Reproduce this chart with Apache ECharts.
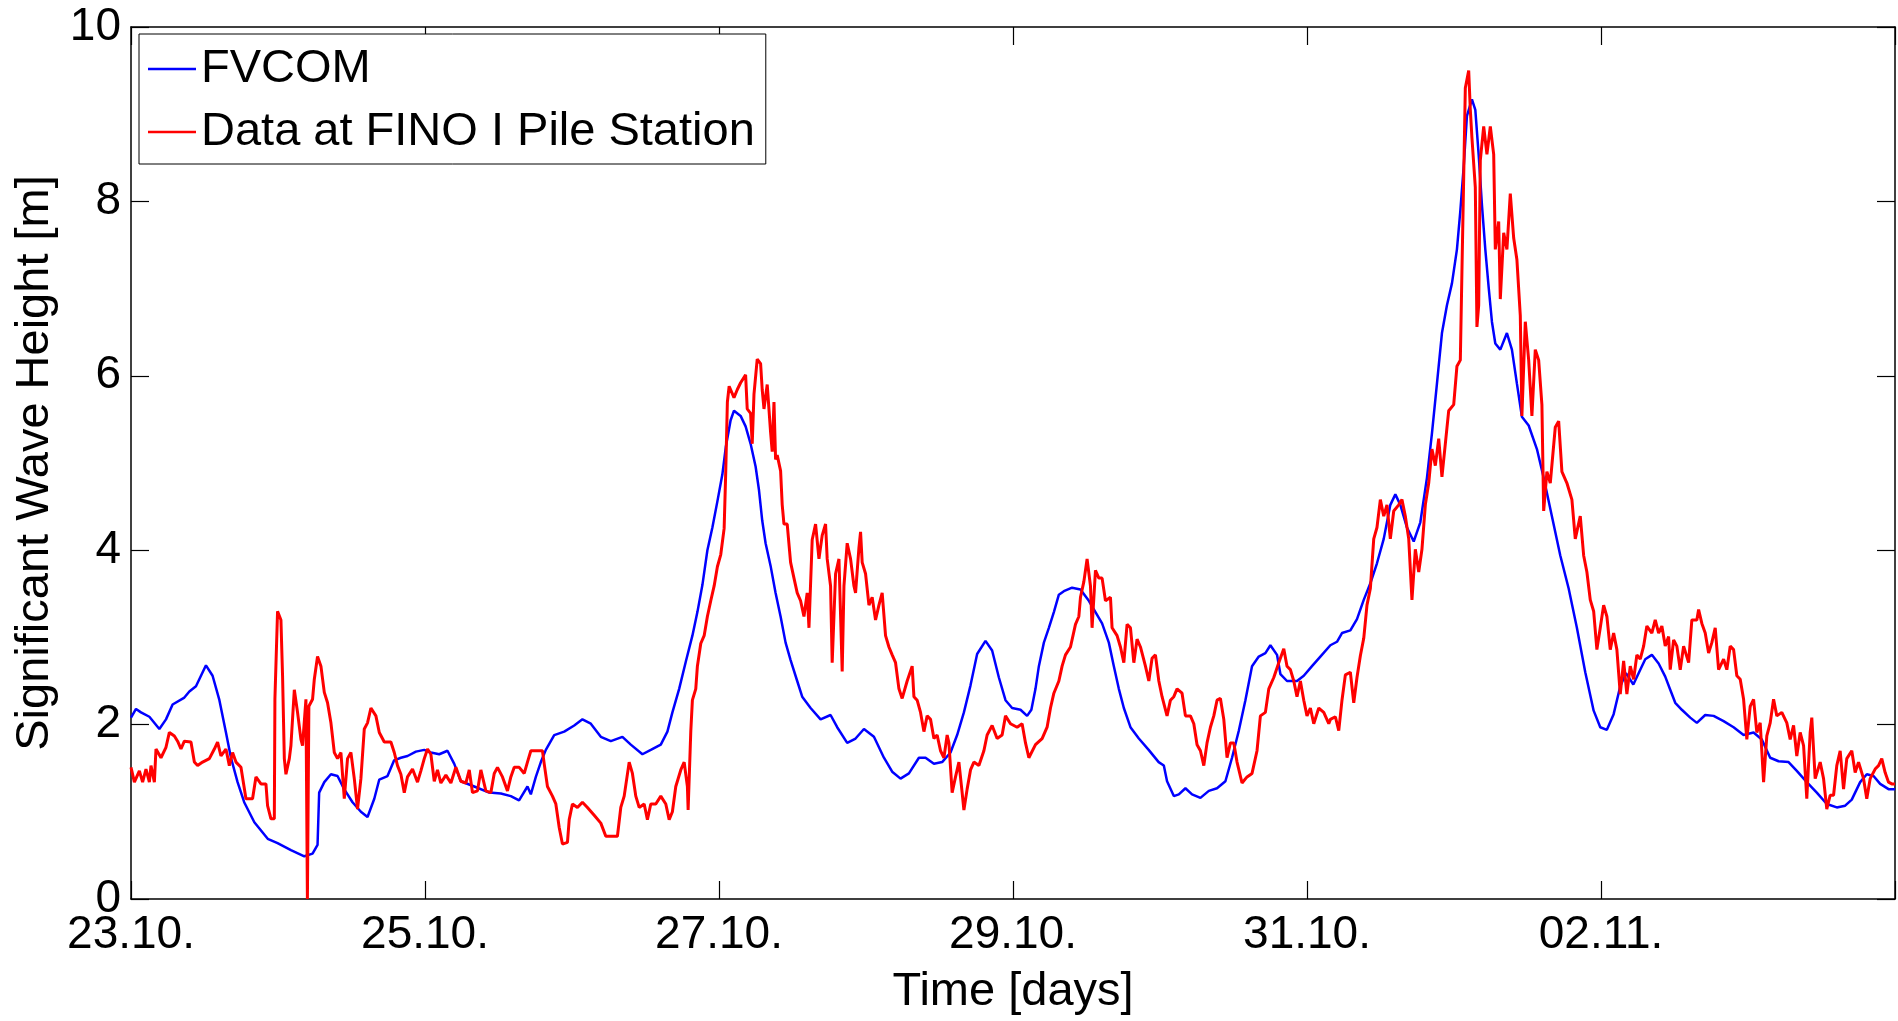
<!DOCTYPE html>
<html><head><meta charset="utf-8">
<script src="https://cdn.jsdelivr.net/npm/echarts@6/dist/echarts.min.js"></script>
<style>html,body{margin:0;padding:0;background:#fff}#c{width:1898px;height:1021px}</style>
</head><body><div id="c"></div>
<script>
// x in days since 23.10. 00:00
const xTickLabels = ['23.10.', '25.10.', '27.10.', '29.10.', '31.10.', '02.11.'];
const seriesNames = ['FVCOM', 'Data at FINO I Pile Station'];

const fvcomPoints = [
[0,2.08],[0.034,2.18],[0.068,2.14],[0.125,2.09],[0.193,1.95],[0.238,2.06],[0.283,2.23],[0.363,2.31],[0.397,2.38],[0.442,2.44],[0.476,2.56],[0.510,2.68],[0.555,2.56],[0.600,2.29],[0.646,1.91],[0.680,1.62],[0.725,1.34],[0.770,1.11],[0.839,0.88],[0.930,0.69],[0.997,0.64],[1.088,0.56],[1.179,0.49],[1.235,0.52],[1.269,0.62],[1.280,1.22],[1.315,1.34],[1.360,1.43],[1.405,1.41],[1.450,1.26],[1.507,1.11],[1.564,1.00],[1.609,0.94],[1.655,1.15],[1.689,1.37],[1.745,1.41],[1.790,1.59],[1.836,1.62],[1.881,1.64],[1.938,1.69],[1.995,1.71],
[2.040,1.68],[2.097,1.66],[2.153,1.70],[2.199,1.55],[2.244,1.35],[2.335,1.29],[2.437,1.22],[2.516,1.21],[2.584,1.18],[2.640,1.13],[2.697,1.29],[2.720,1.20],[2.754,1.40],[2.788,1.57],[2.822,1.71],[2.879,1.88],[2.947,1.92],[3.015,1.99],[3.071,2.06],[3.128,2.01],[3.196,1.86],[3.264,1.81],[3.343,1.86],[3.400,1.77],[3.479,1.66],[3.536,1.71],[3.604,1.77],[3.649,1.92],[3.683,2.14],[3.729,2.41],[3.774,2.72],[3.819,3.02],[3.853,3.29],[3.887,3.60],[3.921,4.00],[3.955,4.26],[3.989,4.56],[4.023,4.87],[4.046,5.18],
[4.079,5.49],[4.102,5.60],[4.147,5.54],[4.181,5.42],[4.215,5.22],[4.249,4.96],[4.272,4.69],[4.294,4.34],[4.317,4.08],[4.351,3.82],[4.385,3.51],[4.419,3.24],[4.453,2.94],[4.487,2.74],[4.532,2.50],[4.566,2.32],[4.623,2.19],[4.691,2.06],[4.759,2.11],[4.804,1.97],[4.872,1.79],[4.929,1.84],[4.986,1.95],[5.054,1.86],[5.122,1.62],[5.178,1.46],[5.235,1.38],[5.292,1.44],[5.360,1.62],[5.405,1.62],[5.462,1.55],[5.518,1.57],[5.575,1.68],[5.620,1.88],[5.666,2.14],[5.711,2.45],[5.756,2.81],[5.813,2.96],[5.858,2.85],[5.904,2.54],[5.949,2.28],[5.994,2.19],[6.051,2.17],[6.096,2.10],
[6.125,2.17],[6.153,2.41],[6.176,2.67],[6.210,2.94],[6.244,3.11],[6.278,3.29],[6.312,3.49],[6.346,3.53],[6.402,3.57],[6.459,3.55],[6.516,3.42],[6.561,3.29],[6.606,3.16],[6.652,2.94],[6.686,2.67],[6.720,2.41],[6.754,2.19],[6.799,1.97],[6.856,1.84],[6.923,1.71],[6.991,1.57],[7.026,1.53],[7.048,1.35],[7.094,1.18],[7.128,1.20],[7.173,1.27],[7.218,1.20],[7.275,1.16],[7.332,1.24],[7.388,1.27],[7.445,1.35],[7.490,1.62],[7.536,1.93],[7.581,2.28],[7.626,2.67],[7.672,2.78],[7.717,2.82],[7.751,2.91],[7.796,2.80],[7.819,2.58],[7.864,2.50],[7.932,2.50],[7.978,2.56],[8.034,2.67],[8.091,2.78],[8.159,2.91],
[8.204,2.95],[8.238,3.05],[8.295,3.08],[8.340,3.21],[8.386,3.43],[8.431,3.62],[8.476,3.85],[8.522,4.13],[8.567,4.52],[8.601,4.64],[8.635,4.52],[8.680,4.26],[8.726,4.10],[8.771,4.32],[8.816,4.83],[8.850,5.34],[8.884,5.91],[8.918,6.49],[8.952,6.81],[8.986,7.06],[9.020,7.45],[9.043,7.89],[9.066,8.40],[9.088,8.98],[9.122,9.17],[9.145,9.05],[9.168,8.53],[9.190,7.96],[9.213,7.45],[9.236,7.01],[9.258,6.62],[9.281,6.37],[9.315,6.30],[9.360,6.49],[9.394,6.30],[9.428,5.91],[9.462,5.53],[9.508,5.43],[9.564,5.16],[9.610,4.83],[9.666,4.39],[9.723,3.94],[9.780,3.56],[9.836,3.11],[9.893,2.60],[9.950,2.16],[9.995,1.97],[10.040,1.94],[10.086,2.12],[10.131,2.44],[10.170,2.59],[10.220,2.46],
[10.267,2.63],[10.301,2.75],[10.346,2.80],[10.392,2.70],[10.437,2.55],[10.471,2.40],[10.505,2.25],[10.550,2.17],[10.607,2.08],[10.652,2.02],[10.709,2.11],[10.766,2.10],[10.834,2.04],[10.902,1.97],[10.970,1.88],[11.038,1.91],[11.094,1.83],[11.151,1.62],[11.208,1.58],[11.276,1.57],[11.332,1.47],[11.400,1.34],[11.468,1.22],[11.536,1.09],[11.604,1.05],[11.661,1.07],[11.706,1.14],[11.763,1.34],[11.808,1.43],[11.854,1.41],[11.899,1.32],[11.956,1.26],[12.0,1.26]
];

const finoPoints = [
[0,1.51],[0.023,1.34],[0.057,1.47],[0.079,1.34],[0.102,1.49],[0.125,1.34],[0.136,1.53],[0.159,1.34],[0.170,1.72],[0.204,1.62],[0.238,1.74],[0.261,1.91],[0.295,1.87],[0.317,1.81],[0.340,1.72],[0.363,1.81],[0.408,1.80],[0.431,1.57],[0.453,1.53],[0.487,1.57],[0.533,1.61],[0.567,1.72],[0.589,1.80],[0.612,1.64],[0.646,1.72],[0.669,1.53],[0.691,1.68],[0.714,1.57],[0.748,1.51],[0.782,1.15],[0.827,1.15],[0.850,1.40],[0.884,1.32],[0.918,1.32],[0.929,1.07],[0.952,0.92],[0.975,0.92],[0.979,2.29],[0.997,3.30],[1.020,3.20],[1.031,2.56],[1.043,1.61],[1.054,1.43],[1.077,1.61],[1.088,1.76],[1.111,2.40],[1.133,2.14],[1.156,1.83],[1.167,1.76],[1.190,2.29],[1.200,0],[1.210,2.21],[1.235,2.29],[1.247,2.52],[1.269,2.78],[1.292,2.67],[1.315,2.37],[1.337,2.25],[1.360,2.02],[1.383,1.68],[1.405,1.61],[1.428,1.68],[1.451,1.15],[1.473,1.61],[1.496,1.68],[1.519,1.38],[1.541,1.03],[1.564,1.38],[1.587,1.95],[1.609,2.02],[1.632,2.19],[1.666,2.10],[1.689,1.91],[1.723,1.80],[1.768,1.80],[1.791,1.68],[1.813,1.53],[1.836,1.43],[1.859,1.22],[1.881,1.40],[1.915,1.49],[1.949,1.34],[1.972,1.47],[1.995,1.61],[2.017,1.72],[2.040,1.66],
[2.063,1.35],[2.085,1.48],[2.108,1.33],[2.142,1.42],[2.176,1.33],[2.210,1.51],[2.244,1.35],[2.278,1.33],[2.301,1.48],[2.323,1.22],[2.357,1.24],[2.380,1.48],[2.414,1.24],[2.448,1.22],[2.471,1.44],[2.493,1.51],[2.527,1.40],[2.561,1.24],[2.584,1.40],[2.607,1.51],[2.641,1.51],[2.675,1.44],[2.697,1.57],[2.720,1.70],[2.765,1.70],[2.799,1.70],[2.811,1.55],[2.833,1.29],[2.867,1.18],[2.890,1.09],[2.913,0.82],[2.935,0.63],[2.969,0.65],[2.981,0.91],[3.003,1.09],[3.037,1.05],[3.071,1.11],[3.105,1.05],[3.151,0.96],[3.196,0.87],[3.230,0.72],[3.275,0.72],[3.309,0.72],[3.332,1.05],[3.355,1.18],[3.389,1.57],[3.411,1.44],[3.434,1.18],[3.457,1.05],[3.491,1.09],[3.513,0.91],[3.536,1.09],[3.570,1.09],[3.604,1.18],[3.638,1.09],[3.661,0.91],[3.683,1.00],[3.706,1.29],[3.740,1.48],[3.763,1.57],[3.785,1.29],[3.790,1.02],[3.808,1.92],[3.819,2.28],[3.842,2.41],[3.853,2.67],[3.876,2.93],[3.899,3.02],[3.921,3.24],[3.944,3.42],[3.967,3.59],[3.989,3.81],[4.012,3.95],[4.035,4.25],[4.046,4.91],[4.057,5.70],[4.069,5.88],
[4.079,5.88],[4.102,5.75],[4.124,5.84],[4.147,5.92],[4.181,6.01],[4.192,5.62],[4.215,5.57],[4.226,5.22],[4.238,5.79],[4.260,6.19],[4.283,6.14],[4.294,5.84],[4.306,5.62],[4.328,5.90],[4.351,5.35],[4.362,5.13],[4.374,5.70],[4.385,5.04],[4.396,5.09],[4.419,4.91],[4.430,4.52],[4.442,4.30],[4.464,4.30],[4.487,3.86],[4.510,3.68],[4.532,3.51],[4.555,3.42],[4.578,3.24],[4.600,3.51],[4.612,3.11],[4.634,4.12],[4.657,4.30],[4.680,3.90],[4.702,4.17],[4.725,4.30],[4.736,3.90],[4.759,3.59],[4.770,2.71],[4.793,3.73],[4.816,3.90],[4.838,2.61],[4.850,3.59],[4.872,4.08],[4.895,3.90],[4.918,3.59],[4.929,3.51],[4.952,4.03],[4.963,4.21],[4.974,3.86],[4.997,3.73],[5.020,3.37],[5.042,3.46],[5.065,3.20],[5.088,3.37],[5.110,3.51],[5.133,3.02],[5.156,2.89],[5.178,2.80],[5.201,2.71],[5.224,2.41],[5.246,2.30],[5.280,2.50],[5.314,2.67],[5.326,2.32],[5.348,2.28],[5.371,2.14],[5.394,1.92],[5.416,2.10],[5.439,2.06],[5.462,1.84],[5.484,1.88],[5.507,1.70],[5.530,1.62],[5.552,1.88],[5.564,1.79],[5.586,1.22],[5.609,1.40],[5.632,1.57],[5.654,1.22],[5.666,1.02],[5.688,1.26],[5.711,1.48],[5.734,1.57],[5.768,1.53],[5.802,1.70],[5.824,1.88],[5.858,1.99],[5.892,1.84],[5.926,1.88],[5.949,2.10],[5.983,2.01],[6.028,1.97],[6.062,2.01],[6.085,1.79],[6.108,1.62],
[6.119,1.62],[6.153,1.77],[6.198,1.84],[6.232,1.97],[6.255,2.19],[6.278,2.36],[6.312,2.50],[6.334,2.67],[6.357,2.80],[6.391,2.89],[6.425,3.15],[6.448,3.24],[6.459,3.46],[6.482,3.64],[6.504,3.90],[6.527,3.59],[6.538,3.11],[6.561,3.77],[6.584,3.68],[6.606,3.68],[6.629,3.42],[6.663,3.46],[6.674,3.11],[6.708,3.02],[6.731,2.89],[6.754,2.71],[6.776,3.15],[6.799,3.11],[6.822,2.71],[6.844,2.98],[6.867,2.89],[6.901,2.67],[6.924,2.50],[6.946,2.76],[6.969,2.80],[6.992,2.50],[7.014,2.32],[7.048,2.10],[7.071,2.28],[7.094,2.32],[7.116,2.41],[7.150,2.36],[7.173,2.10],[7.207,2.10],[7.230,2.01],[7.252,1.77],[7.275,1.70],[7.298,1.53],[7.320,1.79],[7.343,1.97],[7.366,2.10],[7.388,2.28],[7.411,2.30],[7.434,2.06],[7.456,1.62],[7.479,1.79],[7.502,1.79],[7.524,1.57],[7.558,1.33],[7.592,1.40],[7.626,1.44],[7.660,1.70],[7.683,2.10],[7.717,2.14],[7.740,2.41],[7.774,2.54],[7.808,2.71],[7.842,2.87],[7.864,2.67],[7.887,2.63],[7.910,2.50],[7.932,2.32],[7.955,2.50],[7.978,2.28],[8.000,2.10],[8.023,2.19],[8.046,2.01],[8.080,2.19],[8.114,2.14],[8.148,2.01],
[8.159,2.06],[8.193,2.09],[8.216,1.93],[8.238,2.28],[8.261,2.57],[8.295,2.60],[8.318,2.25],[8.340,2.54],[8.363,2.79],[8.386,2.99],[8.408,3.37],[8.431,3.56],[8.454,4.13],[8.476,4.26],[8.499,4.58],[8.522,4.39],[8.544,4.52],[8.567,4.13],[8.590,4.45],[8.624,4.52],[8.646,4.58],[8.669,4.39],[8.692,4.13],[8.714,3.43],[8.737,4.01],[8.760,3.75],[8.782,4.01],[8.805,4.52],[8.828,4.77],[8.850,5.16],[8.873,4.97],[8.896,5.28],[8.918,4.84],[8.941,5.22],[8.964,5.60],[8.998,5.67],[9.020,6.11],[9.043,6.18],[9.054,7.20],[9.066,8.28],[9.077,9.30],[9.100,9.50],[9.111,9.05],[9.122,8.73],[9.145,8.16],[9.156,6.56],[9.168,6.81],[9.179,8.47],[9.202,8.86],[9.224,8.54],[9.247,8.86],[9.270,8.54],[9.281,7.45],[9.304,7.77],[9.315,6.88],[9.338,7.64],[9.360,7.45],[9.383,8.09],[9.406,7.58],[9.428,7.33],[9.451,6.69],[9.462,5.54],[9.485,6.62],[9.508,6.18],[9.530,5.54],[9.553,6.30],[9.576,6.18],[9.598,5.67],[9.610,4.45],[9.632,4.90],[9.655,4.77],[9.689,5.41],[9.712,5.48],[9.734,4.90],[9.768,4.77],[9.802,4.58],[9.825,4.13],[9.859,4.39],[9.882,3.94],[9.904,3.75],[9.927,3.43],[9.950,3.30],[9.972,2.86],[9.995,3.11],[10.018,3.37],[10.040,3.24],[10.063,2.86],[10.086,3.05],[10.108,2.86],[10.131,2.35],[10.154,2.73],[10.176,2.35],
[10.199,2.67],[10.222,2.52],[10.244,2.80],[10.267,2.75],[10.290,2.90],[10.312,3.13],[10.346,3.05],[10.369,3.20],[10.392,3.05],[10.414,3.13],[10.437,2.90],[10.460,3.01],[10.471,2.63],[10.494,2.97],[10.516,2.90],[10.539,2.63],[10.562,2.90],[10.596,2.71],[10.618,3.20],[10.652,3.20],[10.664,3.32],[10.686,3.16],[10.709,3.05],[10.732,2.82],[10.754,2.94],[10.777,3.11],[10.800,2.63],[10.834,2.75],[10.856,2.63],[10.879,2.90],[10.902,2.86],[10.924,2.56],[10.947,2.52],[10.970,2.29],[10.992,1.83],[11.015,2.21],[11.038,2.29],[11.060,1.91],[11.083,2.02],[11.106,1.34],[11.128,1.87],[11.151,2.02],[11.174,2.29],[11.196,2.10],[11.230,2.14],[11.264,2.02],[11.287,1.83],[11.310,1.99],[11.332,1.64],[11.355,1.91],[11.378,1.76],[11.400,1.15],[11.423,1.91],[11.434,2.08],[11.457,1.38],[11.491,1.57],[11.514,1.38],[11.536,1.03],[11.559,1.19],[11.582,1.19],[11.604,1.53],[11.627,1.70],[11.650,1.26],[11.672,1.61],[11.706,1.70],[11.729,1.45],[11.752,1.57],[11.786,1.38],[11.808,1.15],[11.831,1.38],[11.865,1.49],[11.888,1.53],[11.910,1.61],[11.933,1.45],[11.956,1.34],[11.978,1.32],[12.0,1.32]
];

const FONT = "'Liberation Sans', Arial, Helvetica, sans-serif";
const chart = echarts.init(document.getElementById('c'), null, {renderer: 'canvas'});
const axisLineStyle = {color: '#000', width: 1.5};
const tickStyle = {show: true, inside: true, length: 18, lineStyle: {color: '#000', width: 1.2}};

chart.setOption({
  animation: false,
  backgroundColor: '#fff',
  grid: {left: 131, right: 2, top: 27, bottom: 117, containLabel: false},
  legend: {
    orient: 'vertical',
    left: 139, top: 34,
    data: seriesNames,
    icon: 'rect',
    itemWidth: 48, itemHeight: 2.5,
    itemGap: 13,
    padding: [10, 11, 7, 9],
    backgroundColor: '#fff',
    borderColor: '#000', borderWidth: 1, borderRadius: 0,
    textStyle: {fontFamily: FONT, fontSize: 47, color: '#000', lineHeight: 50},
    selectedMode: false
  },
  xAxis: [{
    type: 'value', min: 0, max: 12, interval: 2,
    name: 'Time [days]', nameLocation: 'middle', nameGap: 70,
    nameTextStyle: {fontFamily: FONT, fontSize: 47, color: '#000'},
    axisLine: {show: true, onZero: false, lineStyle: axisLineStyle},
    axisTick: tickStyle,
    axisLabel: {
      margin: 13, fontFamily: FONT, fontSize: 46, color: '#000',
      formatter: v => (v < 12 ? xTickLabels[Math.round(v / 2)] : '')
    },
    splitLine: {show: false}
  }, {
    type: 'value', position: 'top', min: 0, max: 12, interval: 2,
    axisLine: {show: true, onZero: false, lineStyle: axisLineStyle},
    axisTick: tickStyle, axisLabel: {show: false}, splitLine: {show: false}
  }],
  yAxis: [{
    type: 'value', min: 0, max: 10, interval: 2,
    name: 'Significant Wave Height [m]', nameLocation: 'middle', nameGap: 71, nameRotate: 90,
    nameTextStyle: {fontFamily: FONT, fontSize: 47, color: '#000'},
    axisLine: {show: true, onZero: false, lineStyle: axisLineStyle},
    axisTick: tickStyle,
    axisLabel: {margin: 10, fontFamily: FONT, fontSize: 46, color: '#000'},
    splitLine: {show: false}
  }, {
    type: 'value', position: 'right', min: 0, max: 10, interval: 2,
    axisLine: {show: true, onZero: false, lineStyle: axisLineStyle},
    axisTick: tickStyle, axisLabel: {show: false}, splitLine: {show: false}
  }],
  series: [{
    name: seriesNames[0], type: 'line', xAxisIndex: 0, yAxisIndex: 0,
    data: fvcomPoints, symbol: 'none', showSymbol: false,
    lineStyle: {color: '#0000ff', width: 2.5}, itemStyle: {color: '#0000ff'}, z: 2
  }, {
    name: seriesNames[1], type: 'line', xAxisIndex: 0, yAxisIndex: 0,
    data: finoPoints, symbol: 'none', showSymbol: false,
    lineStyle: {color: '#ff0000', width: 3}, itemStyle: {color: '#ff0000'}, z: 3
  }]
});
</script>
</body></html>
